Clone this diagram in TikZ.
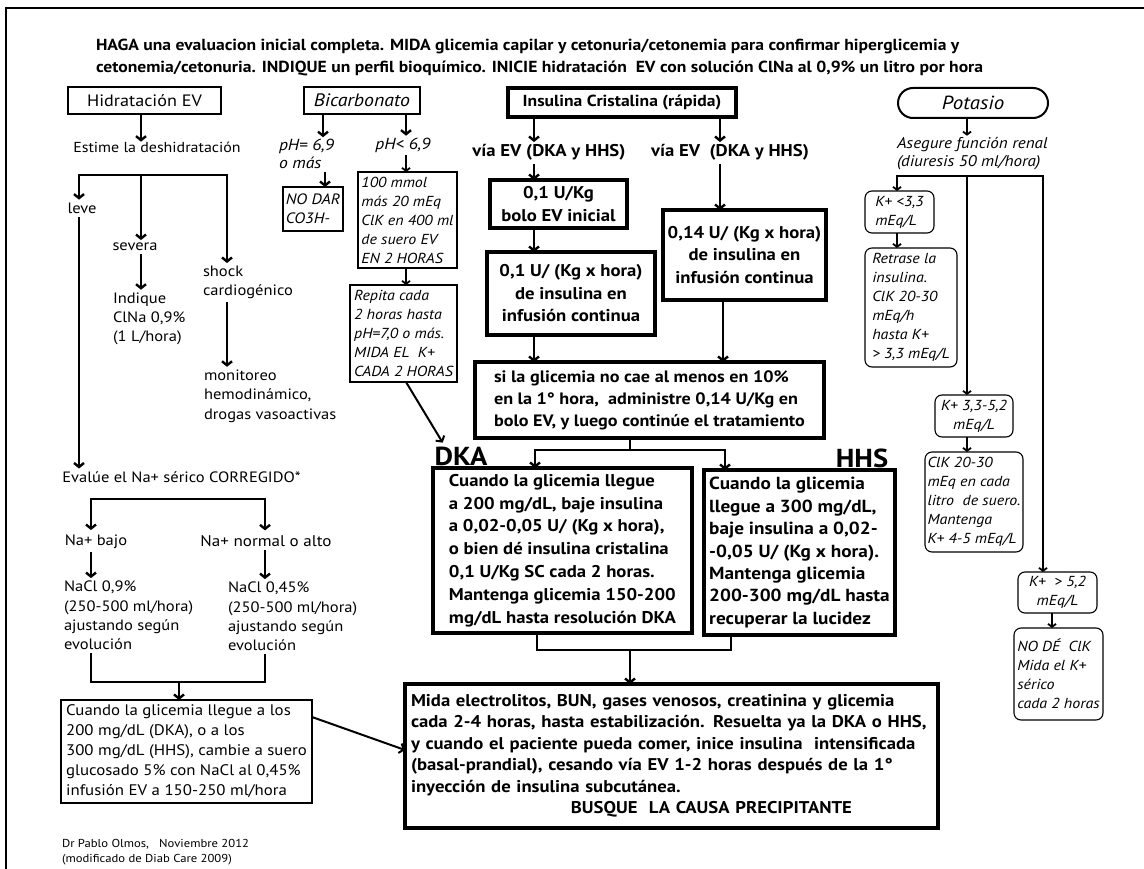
\documentclass[tikz,border=0pt]{standalone}
\usepackage{fontspec}
\setmainfont{PT Sans}[
  BoldFont={PT Sans Bold}, ItalicFont={PT Sans Italic},
  UprightFeatures={FakeStretch=1.1}, BoldFeatures={FakeStretch=1.1},
  ItalicFeatures={FakeStretch=1.1}]
\usetikzlibrary{arrows.meta,calc}
\newcommand{\myfs}[2]{\fontsize{#1}{#2}\selectfont}
\begin{document}
\begin{tikzpicture}[x=1pt,y=-1pt,
  every node/.style={inner sep=0pt, outer sep=0pt},
  arr/.style={line width=2.4pt, -{Straight Barb[length=4pt,width=10pt]}},
  ln/.style={line width=2.4pt},
  darr/.style={line width=2.4pt, {Straight Barb[length=4pt,width=10pt]}-{Straight Barb[length=4pt,width=10pt]}},
  tarr/.style={line width=1.8pt, -{Straight Barb[length=3pt,width=8pt]}},
  tln/.style={line width=1.8pt},
  hbox/.style={draw, line width=3.4pt},
  mbox/.style={draw, line width=2.2pt},
  sbox/.style={draw, line width=1.1pt},
  kbox/.style={draw, line width=1.1pt, rounded corners=7pt},
  reg/.style={font=\myfs{15}{19.3}},
  itl/.style={font=\itshape\myfs{14.5}{19}},
  bld/.style={font=\bfseries\myfs{17}{22.5}}
]
\useasboundingbox (0,0) rectangle (1144,869);
\draw[line width=1.5pt] (6,869) -- (6,8) -- (1144,8);

% title
\node[anchor=west, align=left, font=\bfseries\myfs{16}{22}] (title) at (96,58)
 {HAGA una evaluacion inicial completa. MIDA glicemia capilar y cetonuria/cetonemia para confirmar hiperglicemia y\\
  cetonemia/cetonuria. INDIQUE un perfil bioquímico. INICIE hidratación\ \ EV con solución ClNa al 0,9\% un litro por hora};

% ---------------- left column
\coordinate (xL) at (79,0);
\coordinate (xS) at (227,0);
\coordinate (xA) at (91,0);
\coordinate (xB) at (265,0);
\node[mbox, font=\myfs{16.5}{20}, minimum width=153, minimum height=27] (hid) at (144.5,100.5) {Hidratación EV};
\node[font=\myfs{14.5}{19}] (est) at (157,147) {Estime la deshidratación};
\coordinate (br1) at (141,175);
\node[reg] (leve) at (82,208) {leve};
\node[reg] (sev) at (135,247) {severa};
\node[reg, anchor=west, align=left] (shock) at (203,282.5) {shock\\cardiogénico};
\node[reg, anchor=west, align=left] (indq) at (113,319) {Indique\\ClNa 0,9\%\\(1 L/hora)};
\node[reg, anchor=west, align=left] (monit) at (204,396) {monitoreo\\hemodinámico,\\drogas vasoactivas};
\node[reg] (eval) at (181.5,477) {Evalúe el Na+ sérico CORREGIDO*};
\coordinate (br2) at (178,499);
\node[reg] (nab) at (96,542) {Na+ bajo};
\node[font=\myfs{15.5}{19.3}] (nan) at (266,541) {Na+ normal o alto};
\node[reg, anchor=west, align=left] (nacl1) at (64,615.5) {NaCl 0,9\%\\(250-500 ml/hora)\\ajustando según\\evolución};
\node[reg, anchor=west, align=left] (nacl2) at (228,616.5) {NaCl 0,45\%\\(250-500 ml/hora)\\ajustando según\\evolución};
\coordinate (j1) at (179,682);
\node[mbox, font=\myfs{15.3}{20}, align=left, minimum width=251, minimum height=103] (lbox) at (186.5,751.5)
 {Cuando la glicemia llegue a los\\200 mg/dL (DKA), o a los\\300 mg/dL (HHS), cambie a suero\\glucosado 5\% con NaCl al 0,45\%\\infusión EV a 150-250 ml/hora};
\node[anchor=west, align=left, font=\myfs{11.5}{15}] (foot) at (62,852) {Dr Pablo Olmos,\ \ \ Noviembre 2012\\(modificado de Diab Care 2009)};

\draw[arr] (hid.south -| br1) -- (est.north -| br1);
\draw[arr] (br1) -| ([yshift=3pt]leve.north -| xL);
\draw[arr] (br1) -- ([yshift=3pt]sev.north -| br1);
\draw[arr] (br1) -| ([yshift=3pt]shock.north -| xS);
\draw[arr, shorten <=3pt, shorten >=3pt] (sev.south -| br1) -- (indq.north -| br1);
\draw[arr, shorten <=3pt, shorten >=3pt] (shock.south -| xS) -- (monit.north -| xS);
\draw[arr, shorten <=4pt, shorten >=3pt] (leve.south -| xL) -- (eval.north -| xL);
\draw[darr, shorten <=5pt, shorten >=5pt] (nab.north -| xA) |- (br2) -| (nan.north -| xB);
\draw[arr, shorten <=3pt, shorten >=3pt] (nab.south -| xA) -- (nacl1.north -| xA);
\draw[arr, shorten <=3pt, shorten >=3pt] (nan.south -| xB) -- (nacl2.north -| xB);
\draw[ln, shorten <=3pt] (nacl1.south -| xA) |- (j1);
\draw[ln, shorten <=3pt] (nacl2.south -| xB) |- (j1);
\draw[arr] (j1) -- (lbox.north -| j1);

% ---------------- bicarbonato
\coordinate (xb1) at (323,0);
\coordinate (xb2) at (406,0);
\coordinate (xb3) at (325,0);
\node[mbox, font=\itshape\myfs{18}{20}, minimum width=116, minimum height=27] (bic) at (362,100.5) {Bicarbonato};
\node[font=\itshape\myfs{16}{18}, anchor=west, align=left] (ph1) at (279,154) {pH= 6,9\\o más};
\node[font=\itshape\myfs{16}{18}] (ph2) at (403,145) {pH< 6,9};
\node[sbox, font=\itshape\myfs{15}{19}, align=left, minimum width=60, minimum height=44] (nodar) at (313,209) {NO DAR\\CO3H-};
\node[sbox, itl, align=left, minimum width=99, minimum height=96] (mmol) at (407.5,220) {100 mmol\\más 20 mEq\\ClK en 400 ml\\de suero EV\\EN 2 HORAS};
\node[sbox, itl, align=left, minimum width=107, minimum height=97] (rep) at (403.5,333.5) {Repita cada\\2 horas hasta\\pH=7,0 o más.\\MIDA EL\ \ K+\\CADA 2 HORAS};
\node[font=\bfseries\myfs{26}{30}] (dka) at (461,456) {DKA};

\draw[arr] (bic.south -| xb1) -- ([yshift=2pt]ph1.north -| xb1);
\draw[arr] (bic.south -| xb2) -- ([yshift=2pt]ph2.north -| xb2);
\draw[arr, shorten <=3pt] (ph1.south -| xb3) -- (nodar.north -| xb3);
\draw[tarr, shorten <=3pt] (ph2.south -| xb2) -- (mmol.north -| xb2);
\draw[tarr] (mmol.south -| xb2) -- (rep.north -| xb2);
\draw[arr, line width=2pt] (rep.south -| xb2) -- ([xshift=8pt,yshift=4pt]dka.north west);

% ---------------- insulina
\coordinate (xi1) at (534,0);
\coordinate (xi2) at (720,0);
\coordinate (xi3) at (723,0);
\node[hbox, font=\bfseries\myfs{16}{20}, minimum width=228, minimum height=29] (ins) at (622,102.5) {Insulina Cristalina (rápida)};
\node[bld] (via1) at (549,152) {vía EV (DKA y HHS)};
\node[bld] (via2) at (730,152) {vía EV\ \ (DKA y HHS)};
\node[hbox, bld, align=center, minimum width=137, minimum height=48] (A) at (558.5,204) {0,1 U/Kg\\bolo EV inicial};
\node[hbox, bld, align=center, minimum width=168, minimum height=83] (B) at (571,293.5) {0,1 U/ (Kg x hora)\\de insulina en\\infusión continua};
\node[hbox, bld, align=center, minimum width=163, minimum height=90] (C) at (744.5,255) {0,14 U/ (Kg x hora)\\de insulina en\\infusión continua};
\node[hbox, font=\bfseries\myfs{16.5}{22}, align=left, minimum width=349, minimum height=76] (D) at (649.5,400)
 {si la glicemia no cae al menos en 10\%\\en la 1° hora,\ \ administre 0,14 U/Kg en\\bolo EV, y luego continúe el tratamiento};

\draw[arr] (ins.south -| xi1) -- ([yshift=2pt]via1.north -| xi1);
\draw[arr] (ins.south -| xi2) -- ([yshift=2pt]via2.north -| xi2);
\draw[arr, shorten <=4pt] (via1.south -| xi1) -- (A.north -| xi1);
\draw[arr] (A.south -| xi1) -- (B.north -| xi1);
\draw[arr] (B.south -| xi1) -- (D.north -| xi1);
\draw[arr, shorten <=4pt] (via2.south -| xi2) -- (C.north -| xi2);
\draw[arr] (C.south -| xi3) -- (D.north -| xi3);

% ---------------- DKA / HHS
\coordinate (j2) at (630,450);
\coordinate (xe1) at (535,0);
\coordinate (xf1) at (725,0);
\coordinate (xe2) at (537,0);
\coordinate (xf2) at (731,0);
\coordinate (j3) at (630,650);
\node[font=\bfseries\myfs{26}{30}] (hhs) at (862,458) {HHS};
\node[hbox, font=\bfseries\myfs{17}{22.8}, align=left, minimum width=259, minimum height=165] (E) at (562.5,550.5)
 {Cuando la glicemia llegue\\a 200 mg/dL, baje insulina\\a 0,02-0,05 U/ (Kg x hora),\\o bien dé insulina cristalina\\0,1 U/Kg SC cada 2 horas.\\Mantenga glicemia 150-200\\mg/dL hasta resolución DKA};
\node[hbox, font=\bfseries\myfs{17.5}{22.5}, align=left, minimum width=191, minimum height=165] (F) at (799.5,552.5)
 {Cuando la glicemia\\llegue a 300 mg/dL,\\baje insulina a 0,02-\\-0,05 U/ (Kg x hora).\\Mantenga glicemia\\200-300 mg/dL hasta\\recuperar la lucidez};
\node[hbox, font=\bfseries\myfs{17}{21.5}, text width=521, inner xsep=6pt, align=left, minimum height=144] (G) at (671.5,756)
 {Mida electrolitos, BUN, gases venosos, creatinina y glicemia\\cada 2-4 horas, hasta estabilización. Resuelta ya la DKA o HHS,\\y cuando el paciente pueda comer, inice insulina\ \ intensificada\\(basal-prandial), cesando vía EV 1-2 horas después de la 1°\\inyección de insulina subcutánea.\\\hspace*{\fill}BUSQUE\ \ LA CAUSA PRECIPITANTE\hspace*{80pt}\hspace*{\fill}};

\draw[ln] (D.south -| j2) -- (j2);
\draw[arr] (j2) -| (E.north -| xe1);
\draw[arr] (j2) -| (F.north -| xf1);
\draw[ln] (E.south -| xe2) |- (j3);
\draw[ln] (F.south -| xf2) |- (j3);
\draw[arr] (j3) -- (G.north -| j3);
\draw[arr, line width=2pt] ([yshift=-17pt]lbox.north east) -- ([yshift=6pt]G.west);

% ---------------- potasio
\coordinate (xp) at (967,0);
\coordinate (xk1) at (897,0);
\coordinate (xk5) at (1043,0);
\coordinate (xk6) at (1052,0);
\coordinate (j4) at (967,176);
\node[draw, line width=2pt, rounded corners=15pt, font=\itshape\myfs{19}{22}, minimum width=150, minimum height=30] (pot) at (973,103) {Potasio};
\node[font=\itshape\myfs{15.5}{18}, anchor=west, align=left] (asg) at (897,154) {Asegure función renal\\(diuresis 50 ml/hora)};
\node[kbox, itl, align=left, minimum width=69, minimum height=42] (k1) at (899.5,212) {K+ <3,3\\mEq/L};
\node[kbox, itl, align=left, minimum width=92, minimum height=119] (k2) at (911,307.5) {Retrase la\\insulina.\\ClK 20-30\\mEq/h\\hasta K+\\> 3,3 mEq/L};
\node[kbox, itl, align=center, minimum width=78, minimum height=42] (k3) at (974,416) {K+ 3,3-5,2\\mEq/L};
\node[kbox, itl, align=left, minimum width=98, minimum height=100] (k4) at (974,502) {ClK 20-30\\mEq en cada\\litro\ \ de suero.\\Mantenga\\K+ 4-5 mEq/L};
\node[kbox, itl, align=center, minimum width=79, minimum height=41] (k5) at (1057.5,592.5) {K+\ \ > 5,2\\mEq/L};
\node[kbox, itl, align=left, minimum width=89, minimum height=92] (k6) at (1058.5,674) {NO DÉ\ \ ClK\\Mida el K+\\sérico\\cada 2 horas};

\draw[tarr] (pot.south -| xp) -- ([yshift=2pt]asg.north -| xp);
\draw[tarr] (j4) -| (k1.north -| xk1);
\draw[tarr] (j4) -- (k3.north -| j4);
\draw[tarr] (j4) -| (k5.north -| xk5);
\draw[tarr] (k1.south -| xk1) -- (k2.north -| xk1);
\draw[tarr] (k3.south -| xp) -- (k4.north -| xp);
\draw[tarr] (k5.south -| xk6) -- (k6.north -| xk6);
\end{tikzpicture}
\end{document}
